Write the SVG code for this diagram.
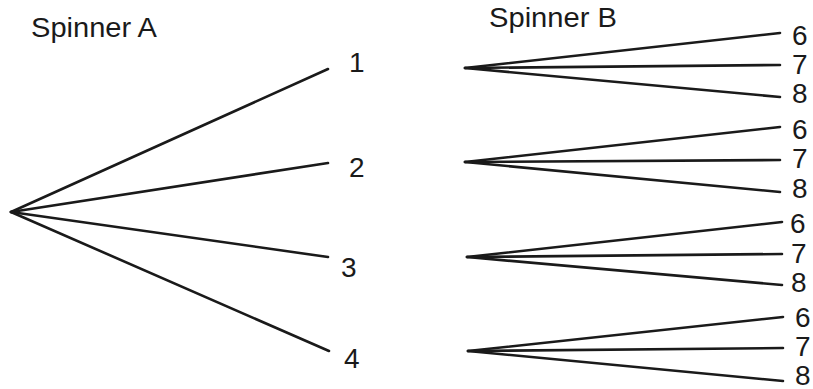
<svg xmlns="http://www.w3.org/2000/svg" width="813" height="389" viewBox="0 0 813 389">
<style>
.t{font-family:"Liberation Sans",Arial,sans-serif;font-size:28px;fill:#1a1a1a}
.h{font-family:"Liberation Sans",Arial,sans-serif;font-size:27px;fill:#1a1a1a}
.c line{stroke:#1a1a1a;stroke-width:2.6;stroke-linecap:round}
</style>
<rect width="813" height="389" fill="#ffffff"/>
<text class="h" x="31" y="37" textLength="126" lengthAdjust="spacingAndGlyphs">Spinner A</text>
<text class="h" x="489" y="27" textLength="128" lengthAdjust="spacingAndGlyphs">Spinner B</text>
<g class="c" id="connectors">
<line x1="11" y1="212" x2="328" y2="69"/>
<line x1="11" y1="212" x2="328" y2="163"/>
<line x1="11" y1="212" x2="328" y2="257"/>
<line x1="11" y1="212" x2="329" y2="351"/>
<line x1="465" y1="68" x2="780" y2="33"/>
<line x1="465" y1="68" x2="780" y2="65"/>
<line x1="465" y1="68" x2="780" y2="97"/>
<line x1="465" y1="162" x2="780" y2="127"/>
<line x1="465" y1="162" x2="780" y2="160"/>
<line x1="465" y1="162" x2="780" y2="192"/>
<line x1="467" y1="257" x2="782" y2="222"/>
<line x1="467" y1="257" x2="782" y2="254"/>
<line x1="467" y1="257" x2="782" y2="285"/>
<line x1="468" y1="351" x2="783" y2="317"/>
<line x1="468" y1="351" x2="783" y2="348"/>
<line x1="468" y1="351" x2="783" y2="381"/>
</g>
<g id="a1"><text class="t" x="349" y="72">1</text></g>
<g id="a2"><text class="t" x="349" y="177">2</text></g>
<g id="a3"><text class="t" x="341" y="277">3</text></g>
<g id="a4"><text class="t" x="344" y="368">4</text></g>
<g id="b1"><text class="t" x="792" y="45">6</text><text class="t" x="792" y="74">7</text><text class="t" x="792" y="103">8</text></g>
<g id="b2"><text class="t" x="792" y="139">6</text><text class="t" x="792" y="168">7</text><text class="t" x="792" y="198">8</text></g>
<g id="b3"><text class="t" x="790" y="233">6</text><text class="t" x="791" y="263">7</text><text class="t" x="791" y="292">8</text></g>
<g id="b4"><text class="t" x="795" y="327">6</text><text class="t" x="795" y="356">7</text><text class="t" x="795" y="385">8</text></g>
</svg>
